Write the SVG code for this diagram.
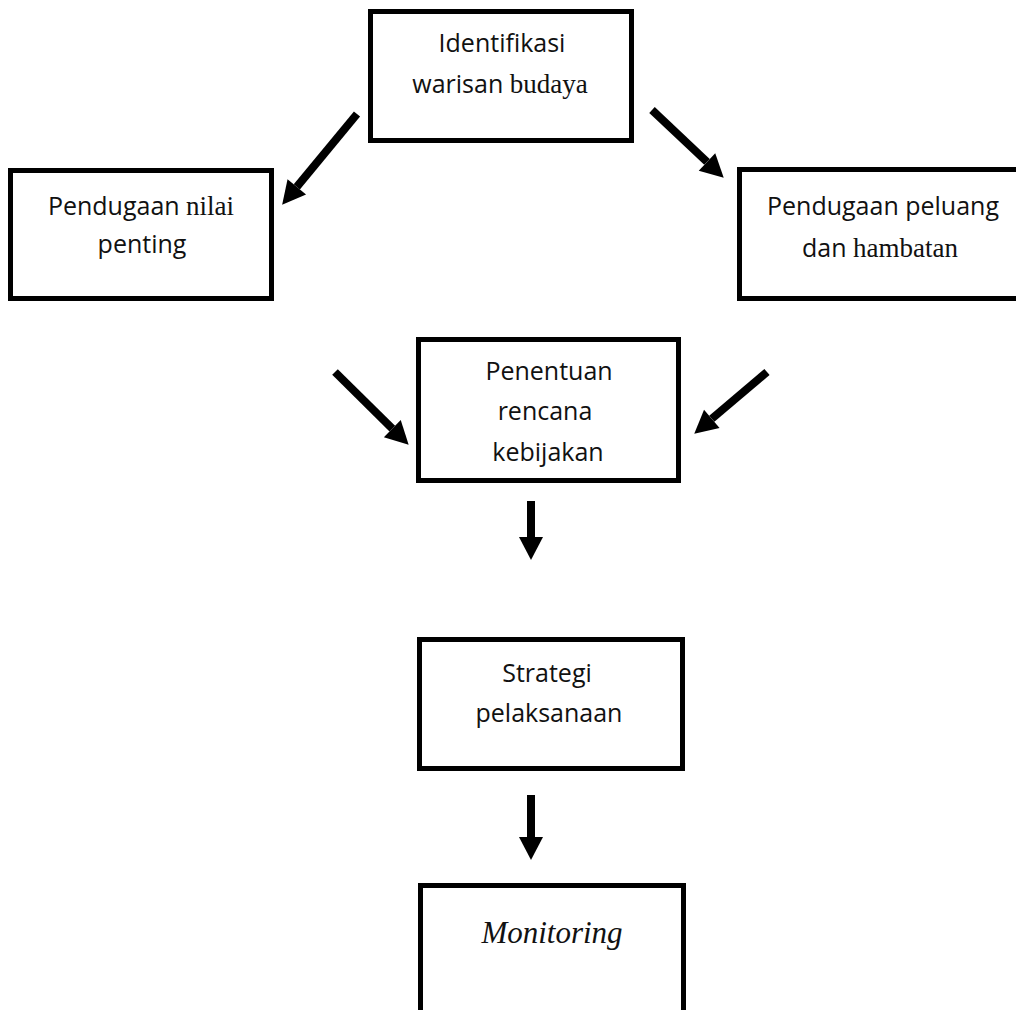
<svg xmlns="http://www.w3.org/2000/svg" width="1016" height="1010" viewBox="0 0 1016 1010">
<style>
.box{fill:#fff;stroke:#000;stroke-width:5}
.t{font-family:"Open Sans","Liberation Sans",sans-serif;font-size:25px;fill:#111;text-anchor:middle}
.s{font-family:"Liberation Serif","Times New Roman",serif;font-size:27px}
.conn line{stroke:#000;stroke-width:8;stroke-linecap:butt}
</style>
<defs>
<marker id="ah" markerUnits="userSpaceOnUse" markerWidth="23" markerHeight="24" refX="0" refY="12" orient="auto" overflow="visible">
<path d="M0,0 L23,12 L0,24 z" fill="#000"/>
</marker>
</defs>
<rect width="1016" height="1010" fill="#fff"/>
<g id="n1"><rect class="box" x="370.5" y="11.5" width="261" height="129"/>
<text class="t" x="502" y="52">Identifikasi</text>
<text class="t" x="500" y="93">warisan <tspan class="s">budaya</tspan></text></g>
<g id="n2"><rect class="box" x="10.5" y="170.5" width="261" height="128"/>
<text class="t" x="141" y="215">Pendugaan <tspan class="s">nilai</tspan></text>
<text class="t" x="142" y="253">penting</text></g>
<g id="n3"><rect class="box" x="739.5" y="169.5" width="300" height="129"/>
<text class="t" x="883" y="215">Pendugaan peluang</text>
<text class="t" x="880" y="257">dan <tspan class="s">hambatan</tspan></text></g>
<g id="n4"><rect class="box" x="418.5" y="339.5" width="260" height="141"/>
<text class="t" x="549" y="380">Penentuan</text>
<text class="t" x="545" y="420">rencana</text>
<text class="t" x="548" y="461">kebijakan</text></g>
<g id="n5"><rect class="box" x="419.5" y="639.5" width="263" height="129"/>
<text class="t" x="547" y="682">Strategi</text>
<text class="t" x="549" y="722">pelaksanaan</text></g>
<g id="n6"><rect class="box" x="420.5" y="885.5" width="263" height="200"/>
<text class="t s" x="552" y="943" font-style="italic" font-size="31" style="font-size:31px">Monitoring</text></g>
<g id="connectors" class="conn">
<line x1="357" y1="114" x2="296.8" y2="186.9" marker-end="url(#ah)"/>
<line x1="652" y1="110" x2="707" y2="161.9" marker-end="url(#ah)"/>
<line x1="335" y1="372" x2="392.3" y2="428.6" marker-end="url(#ah)"/>
<line x1="767" y1="372" x2="711.8" y2="418.8" marker-end="url(#ah)"/>
<line x1="531" y1="501" x2="531" y2="537" marker-end="url(#ah)"/>
<line x1="531" y1="795" x2="531" y2="837" marker-end="url(#ah)"/>
</g>
</svg>
